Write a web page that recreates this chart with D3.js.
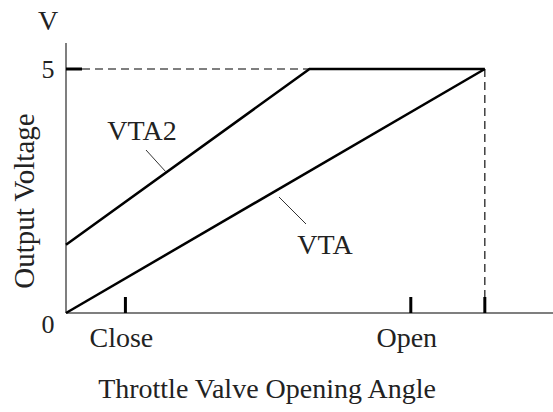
<!DOCTYPE html>
<html>
<head>
<meta charset="utf-8">
<script src="https://cdn.jsdelivr.net/npm/d3@7"></script>
<style>
  body { margin: 0; background: #fff; }
  svg { display: block; }
  text { font-family: 'Liberation Serif', 'Times New Roman', serif; fill: #222; }
</style>
</head>
<body>
<svg width="553" height="412"></svg>
<script>
const width = 553
const height = 412
const margin = { top: 43, right: 0, bottom: 99, left: 66 }

// throttle angle (arbitrary units) vs output voltage
const vtaAngle = [0, 86]
const vtaVolt = [0, 5]
const vta2Angle = [0, 50, 86]
const vta2Volt = [1.4, 5, 5]

const fullAngle = 86
const tickAngles = [12.2, 70.8, 86]
const xLabels = [{ name: 'Close', at: 12.2 }, { name: 'Open', at: 70.8 }]
const yTicks = [0, 5]

const svg = d3.select('svg')

const xScale = d3.scaleLinear()
  .domain([0, 100])
  .range([margin.left, width - margin.right])

const yScale = d3.scaleLinear()
  .domain([0, 5])
  .range([313, 69])

// axes lines
svg.append('line')
  .attr('x1', xScale(0)).attr('x2', xScale(100))
  .attr('y1', yScale(0)).attr('y2', yScale(0))
  .attr('stroke', '#555').attr('stroke-width', 1.5)

svg.append('line')
  .attr('x1', xScale(0)).attr('x2', xScale(0))
  .attr('y1', yScale(0)).attr('y2', margin.top)
  .attr('stroke', '#555').attr('stroke-width', 1.5)

// dashed guides
svg.append('line')
  .attr('x1', xScale(0) + 16).attr('x2', xScale(vta2Angle[1]))
  .attr('y1', yScale(5)).attr('y2', yScale(5))
  .attr('stroke', '#555').attr('stroke-width', 1.3)
  .attr('stroke-dasharray', '8,5')

svg.append('line')
  .attr('x1', xScale(fullAngle)).attr('x2', xScale(fullAngle))
  .attr('y1', yScale(5)).attr('y2', yScale(0))
  .attr('stroke', '#222').attr('stroke-width', 1.3)
  .attr('stroke-dasharray', '8,5')

// y tick at 5
svg.append('line')
  .attr('x1', xScale(0)).attr('x2', xScale(0) + 16)
  .attr('y1', yScale(5)).attr('y2', yScale(5))
  .attr('stroke', '#000').attr('stroke-width', 3)

// x ticks
svg.selectAll('.xtick')
  .data(tickAngles)
  .enter().append('line')
  .attr('class', 'xtick')
  .attr('x1', d => xScale(d)).attr('x2', d => xScale(d))
  .attr('y1', yScale(0)).attr('y2', yScale(0) - 16)
  .attr('stroke', '#000').attr('stroke-width', 3)

// lines
const line = d3.line()
  .x(d => xScale(d[0]))
  .y(d => yScale(d[1]))

svg.append('path')
  .datum(d3.zip(vtaAngle, vtaVolt))
  .attr('d', line)
  .attr('fill', 'none').attr('stroke', '#000').attr('stroke-width', 2.5)

svg.append('path')
  .datum(d3.zip(vta2Angle, vta2Volt))
  .attr('d', line)
  .attr('fill', 'none').attr('stroke', '#000').attr('stroke-width', 2.5)

// tick labels
svg.selectAll('.ylab')
  .data(yTicks)
  .enter().append('text')
  .attr('class', 'ylab')
  .attr('x', xScale(0) - 18)
  .attr('y', d => yScale(d) + (d === 0 ? 20 : 9))
  .attr('text-anchor', 'middle')
  .style('font-size', '26px')
  .text(d => d)

svg.selectAll('.xlab')
  .data(xLabels)
  .enter().append('text')
  .attr('class', 'xlab')
  .attr('x', d => xScale(d.at) - 4)
  .attr('y', 347)
  .attr('text-anchor', 'middle')
  .style('font-size', '28px')
  .text(d => d.name)

// series labels with leaders
svg.append('text')
  .attr('x', 142).attr('y', 140)
  .attr('text-anchor', 'middle')
  .style('font-size', '28px')
  .text('VTA2')

svg.append('line')
  .attr('x1', 146).attr('y1', 150).attr('x2', 166).attr('y2', 172)
  .attr('stroke', '#333').attr('stroke-width', 1)

svg.append('text')
  .attr('x', 325).attr('y', 254)
  .attr('text-anchor', 'middle')
  .style('font-size', '28px')
  .text('VTA')

svg.append('line')
  .attr('x1', 279).attr('y1', 197).attr('x2', 306).attr('y2', 224)
  .attr('stroke', '#333').attr('stroke-width', 1)

// axis titles
svg.append('text')
  .attr('x', 48).attr('y', 30)
  .attr('text-anchor', 'middle')
  .style('font-size', '28px')
  .text('V')

svg.append('text')
  .attr('transform', 'translate(34, 201) rotate(-90)')
  .attr('text-anchor', 'middle')
  .style('font-size', '29px')
  .text('Output Voltage')

svg.append('text')
  .attr('x', 267).attr('y', 398)
  .attr('text-anchor', 'middle')
  .style('font-size', '28px')
  .text('Throttle Valve Opening Angle')
</script>
</body>
</html>
